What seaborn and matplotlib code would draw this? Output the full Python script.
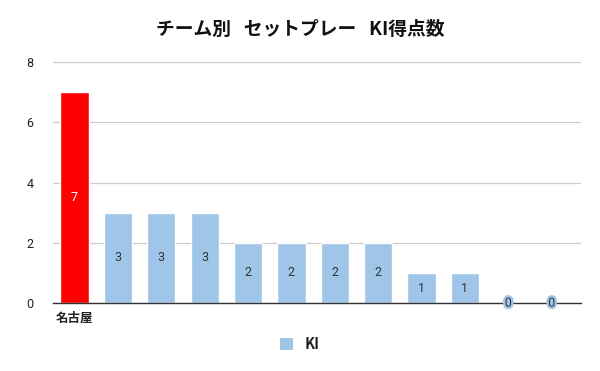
import matplotlib
matplotlib.use("Agg")
import matplotlib.pyplot as plt
import matplotlib.patheffects as pe
import seaborn as sns
import pandas as pd

teams = ["名古屋", "T2", "T3", "T4", "T5", "T6", "T7", "T8", "T9", "T10", "T11", "T12"]
tick_labels = ["名古屋", "", "", "", "", "", "", "", "", "", "", ""]
values = [7, 3, 3, 3, 2, 2, 2, 2, 1, 1, 0, 0]
highlight = "名古屋"
series_name = "KI"
title = "チーム別   セットプレー   KI得点数"

sns.set_theme(style="white")
plt.rcParams['font.family'] = ['Noto Sans CJK JP', 'DejaVu Sans']

df = pd.DataFrame({"team": teams, "value": values})
blue = "#9fc5e8"
red = "#ff0000"
palette = {t: (red if t == highlight else blue) for t in teams}

fig = plt.figure(figsize=(6.0, 3.71), dpi=100)
ax = fig.add_axes([0.088, 0.183, 0.88, 0.65])
sns.barplot(data=df, x="team", y="value", hue="team", palette=palette,
            order=teams, width=0.65, saturation=1, legend=False, ax=ax)

ax.set_ylim(0, 8)
ax.set_yticks([0, 2, 4, 6, 8])
ax.set_xlim(-0.5, len(teams) - 0.33)
ax.yaxis.grid(True, color="#cccccc", linewidth=0.9)
ax.set_axisbelow(True)
for s in ["top", "right", "left"]:
    ax.spines[s].set_visible(False)
ax.spines["bottom"].set_color("#333333")
ax.spines["bottom"].set_linewidth(1.0)
ax.set_xlabel("")
ax.set_ylabel("")
ax.set_xticks(range(len(teams)))
ax.set_xticklabels(tick_labels, fontsize=9, fontweight="bold", color="#222222")
ax.tick_params(axis="x", length=0, pad=6)
ax.tick_params(axis="y", length=0, labelsize=9, colors="#222222", pad=14)
for lbl in ax.get_yticklabels():
    lbl.set_family(["Roboto", "DejaVu Sans"])

for i, (t, v) in enumerate(zip(teams, values)):
    if v > 0:
        ax.text(i, v / 2, str(v), ha="center", va="center", fontsize=9,
                color="white" if t == highlight else "#333333",
                family=["Roboto", "DejaVu Sans"])
    else:
        ax.text(i, 0, str(v), ha="center", va="center", fontsize=9,
                color="#333333", family=["Roboto", "DejaVu Sans"],
                path_effects=[pe.withStroke(linewidth=3.5, foreground=blue)])

fig.suptitle(title, x=0.5, y=0.945, fontsize=13.5, fontweight="bold", color="#111111")

from matplotlib.patches import Patch
leg = fig.legend(handles=[Patch(facecolor=blue, edgecolor="none", label=series_name)],
                 loc="center", bbox_to_anchor=(0.5, 0.073), frameon=False,
                 handlelength=0.9, handleheight=0.9,
                 prop={"weight": "bold", "size": 10.5})
for t in leg.get_texts():
    t.set_color("#222222")

fig.savefig("out.png", dpi=100, facecolor="white")
